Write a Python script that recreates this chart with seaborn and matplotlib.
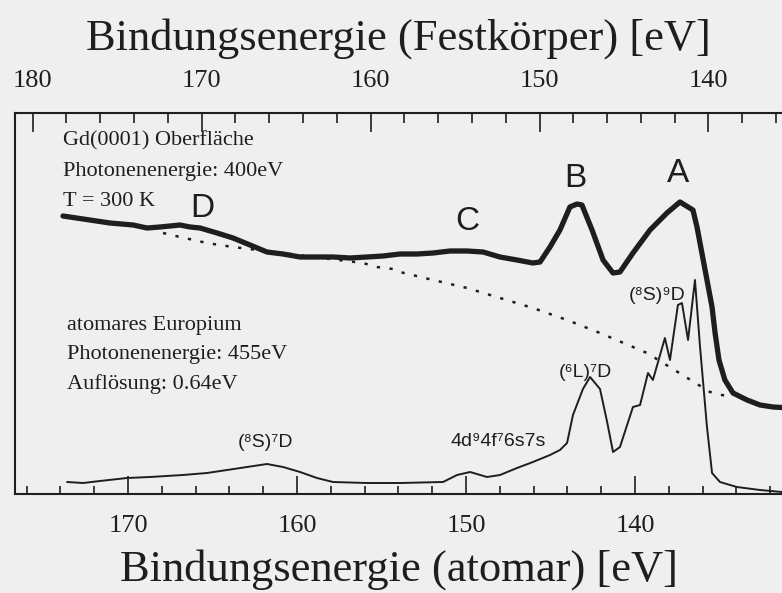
#Gd(0001) surface vs. atomic Eu photoemission spectra (4d region)
#two binding energy scales: solid state (top) and atomic (bottom)

import numpy as np
import seaborn as sns
from matplotlib import pyplot as plt
from matplotlib.ticker import MultipleLocator, FixedLocator

#offset between the two energy scales [eV]
shift = 4.35

#tick labels of both scales
top_ticks = [180, 170, 160, 150, 140]
bottom_ticks = [170, 160, 150, 140]

#Gd(0001) surface spectrum, binding energy on the solid state scale
gd_energy = [178.20, 177.01, 175.42, 174.05, 173.23, 172.46, 171.27, 170.68, 170.09, 169.08,
             168.14, 167.13, 166.13, 165.18, 164.17, 163.17, 162.22, 161.21, 160.21, 159.26,
             158.26, 157.25, 156.30, 155.30, 154.29, 153.34, 152.34, 151.33, 150.39, 149.97,
             149.38, 148.79, 148.20, 147.78, 147.49, 146.89, 146.24, 145.65, 145.24, 144.47,
             143.46, 142.46, 141.69, 140.92, 140.68, 140.39, 140.09, 139.79, 139.61, 139.38,
             139.03, 138.55, 137.72, 136.95, 136.18, 135.18]
gd_intensity = [277, 274, 270, 268, 265, 266, 268, 266, 265, 260,
                255, 248, 241, 239, 236, 236, 236, 235, 236, 237,
                239, 239, 240, 242, 242, 241, 236, 233, 230, 231,
                246, 263, 286, 289, 288, 263, 233, 220, 221, 240,
                263, 280, 291, 283, 266, 240, 213, 186, 160, 133,
                113, 100, 93, 88, 86, 85]

#background under the Gd spectrum (dotted)
bg_energy = [172.28, 171.27, 169.68, 168.14, 160.45, 159.62, 158.67, 158.26, 156.30, 154.29,
             152.34, 150.39, 148.37, 146.42, 144.47, 143.64, 139.91, 138.73]
bg_intensity = [260, 256, 250, 246, 230, 226, 224, 221, 213, 205,
                195, 185, 173, 160, 146, 140, 101, 96]

#atomic Eu spectrum, binding energy on the atomic scale
eu_energy = [173.61, 172.66, 171.66, 170.06, 168.70, 166.75, 165.33, 164.14, 162.96, 161.78,
             160.83, 159.82, 158.82, 157.87, 155.86, 153.91, 151.36, 150.53, 149.76, 148.76,
             147.99, 146.98, 146.04, 145.03, 144.44, 144.02, 143.67, 143.08, 142.66, 142.07,
             141.66, 141.30, 140.89, 140.12, 139.70, 139.23, 138.94, 138.23, 137.93, 137.46,
             137.22, 136.86, 136.45, 136.15, 135.74, 135.44, 134.97, 133.97, 132.60, 131.30,
             130.24]
eu_intensity = [11, 10, 12, 15, 16, 18, 20, 23, 26, 29,
                26, 21, 15, 11, 10, 10, 11, 18, 21, 16,
                18, 25, 31, 38, 43, 50, 78, 104, 116, 104,
                72, 41, 46, 86, 88, 120, 113, 155, 133, 188,
                190, 153, 213, 146, 66, 20, 11, 6, 3, 1,
                1]

sns.set_style("ticks")
plt.rcParams['font.family'] = ['Liberation Serif', 'DejaVu Serif']
sans = ['Liberation Sans', 'DejaVu Sans']

paper = '#efefef'
ink = '#1e1e1e'

fig = plt.figure(figsize=(7.82, 5.93), dpi=100, facecolor=paper)
ax = fig.add_axes([15/782, 99/593, 767/782, 381/593], facecolor=paper)

#thick measured curve, thin atomic curve, dotted background
sns.lineplot(x=np.array(gd_energy) - shift, y=gd_intensity, ax=ax, color=ink,
             linewidth=3.8, sort=False, estimator=None)
sns.lineplot(x=np.array(bg_energy) - shift, y=bg_intensity, ax=ax, color=ink,
             linewidth=1.8, linestyle=(0, (1.3, 3.8)), sort=False, estimator=None)
sns.lineplot(x=eu_energy, y=eu_intensity, ax=ax, color=ink,
             linewidth=1.4, sort=False, estimator=None)

ax.set_xlim(176.69, 131.30)
ax.set_ylim(-1, 380)
ax.set_yticks([])
ax.set_ylabel('')
ax.spines['right'].set_visible(False)
ax.spines['top'].set_visible(False)
for s in ['left', 'bottom']:
    ax.spines[s].set_linewidth(1.5)
    ax.spines[s].set_color(ink)

#bottom axis (atomar)
ax.xaxis.set_major_locator(FixedLocator(bottom_ticks))
ax.xaxis.set_minor_locator(MultipleLocator(2))
ax.tick_params(axis='x', which='major', direction='in', length=13, width=1.2,
               pad=15, labelsize=19, colors=ink)
ax.tick_params(axis='x', which='minor', direction='in', length=6, width=1.2, colors=ink)
ax.set_xlabel('Bindungsenergie (atomar) [eV]', fontsize=32, labelpad=9, color=ink)

#top axis (Festkoerper)
secax = ax.secondary_xaxis('top', functions=(lambda e: e + shift, lambda e: e - shift))
secax.xaxis.set_major_locator(FixedLocator(top_ticks))
secax.xaxis.set_minor_locator(MultipleLocator(2))
secax.tick_params(which='major', direction='in', length=14, width=1.2,
                  pad=15, labelsize=19, colors=ink)
secax.tick_params(which='minor', direction='in', length=7, width=1.2, colors=ink)
secax.spines['top'].set_linewidth(1.5)
secax.spines['top'].set_color(ink)
secax.set_xlabel('Bindungsenergie (Festkörper) [eV]', fontsize=32, labelpad=15, color=ink)

#sample info
for txt, y in [('Gd(0001) Oberfläche', 348), ('Photonenenergie: 400eV', 317), ('T = 300 K', 287)]:
    ax.text(173.85, y, txt, fontsize=16, ha='left', va='baseline', color=ink)
for txt, y in [('atomares Europium', 163), ('Photonenenergie: 455eV', 134), ('Auflösung: 0.64eV', 104)]:
    ax.text(173.61, y, txt, fontsize=16, ha='left', va='baseline', color=ink)

#peak labels
for txt, x, y in [('D', 165.62, 276), ('C', 149.94, 263), ('B', 143.55, 306), ('A', 137.46, 311)]:
    ax.text(x, y, txt, fontsize=24, family=sans, ha='center', va='baseline', color=ink)
for txt, x, y in [('(⁸S)⁹D', 138.70, 193), ('(⁶L)⁷D', 142.96, 116),
                  ('4d⁹4f⁷6s7s', 148.11, 47), ('(⁸S)⁷D', 161.89, 46)]:
    ax.text(x, y, txt, fontsize=14, family=sans, ha='center', va='baseline', color=ink)

fig.savefig('out.png', dpi=100, facecolor=paper)
